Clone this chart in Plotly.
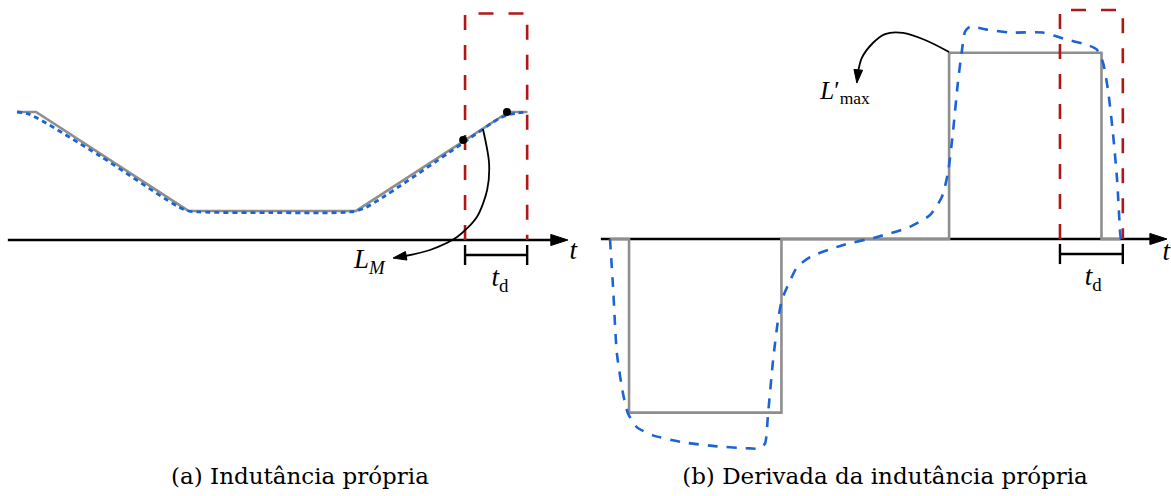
import plotly.graph_objects as go

# ---------------- data ----------------
# (a) self inductance: ideal piecewise-linear profile and measured profile
t_ideal = [0.0, 0.5, 4.5, 8.9, 12.9, 13.4]
L_ideal = [1.0, 1.0, 0.227, 0.227, 1.0, 1.0]

t_meas = [0.0, 0.34, 2.18, 4.41, 4.80, 6.64, 8.74, 9.13, 11.63, 12.68, 13.07, 13.39]
L_meas = [1.0, 0.98, 0.656, 0.234, 0.219, 0.214, 0.219, 0.25, 0.742, 0.953, 0.99, 1.0]

# sample points marked on the ideal profile
t_marks = [11.71, 12.86]
L_marks = [0.781, 1.0]

# (b) derivative of the self inductance: ideal steps and measured curve
t_step = [0.0, 0.5, 4.5, 8.9, 12.9, 13.4]
dL_step = [0.0, -0.932, 0.0, 1.0, 0.0, 0.0]

t_dmeas = [0.0, 0.08, 0.18, 0.34, 0.47, 0.71, 1.13, 1.92, 2.81, 3.67, 3.94, 4.07,
           4.15, 4.28, 4.41, 4.51, 4.65, 4.91, 5.25, 6.12, 7.01, 7.87, 8.40, 8.71,
           8.87, 9.00, 9.13, 9.24, 9.32, 9.45, 9.89, 10.50, 11.36, 11.99, 12.52,
           12.78, 12.94, 13.07, 13.20, 13.31, 13.39, 13.41]
dL_meas = [0.0, -0.258, -0.613, -0.828, -0.935, -1.011, -1.054, -1.091, -1.113,
           -1.124, -1.124, -1.097, -0.935, -0.651, -0.435, -0.328, -0.258, -0.151,
           -0.097, -0.032, 0.011, 0.065, 0.129, 0.226, 0.355, 0.570, 0.839, 1.016,
           1.113, 1.140, 1.124, 1.108, 1.108, 1.070, 1.043, 1.016, 0.946, 0.801,
           0.570, 0.317, 0.032, 0.0]

# dead-time window t_d (start, end) and window height for each panel
td_a = (11.76, 13.39)
td_a_top = 1.77
td_b = (11.81, 13.46)
td_b_top = 1.229

# curved pointer paths for the labels (last point is the arrow tip)
lm_arrow_t = [12.23, 12.39, 12.34, 12.07, 11.55, 10.84, 10.18, 9.87]
lm_arrow_L = [0.867, 0.602, 0.391, 0.180, 0.023, -0.078, -0.125, -0.141]
lmax_arrow_t = [8.90, 8.27, 7.69, 7.22, 6.90, 6.61, 6.51, 6.48]
lmax_arrow_d = [1.004, 1.068, 1.106, 1.100, 1.052, 0.972, 0.896, 0.837]

captions = ["(a) Indutância própria", "(b) Derivada da indutância própria"]

# ---------------- styling ----------------
W, H = 1171, 496
PX_T = 38.1                     # pixels per time unit
A_X0, B_X0 = 17.0, 610.0        # pixel column of t = 0 in each panel
A_Y0, A_SC = 240.0, 128.0       # pixel row of L = 0 and pixels per unit (a)
B_Y0, B_SC = 239.0, 186.3       # same for (b)
SPLIT = 585.5
CAPTION_ROW = 478.0             # pixel row of the caption baseline centre

GRAY = "#8e8e8e"
BLUE = "#1c63d4"
RED = "#b01818"
BLACK = "#000000"
SERIF = "Liberation Serif"
CAPTION_FONT = "DejaVu Serif"

fig = go.Figure()


def line(x, y, xa, ya, color, width, dash="solid", shape="linear", smooth=None):
    ln = dict(color=color, width=width, dash=dash, shape=shape)
    if smooth is not None:
        ln["smoothing"] = smooth
    fig.add_trace(go.Scatter(x=x, y=y, xaxis=xa, yaxis=ya, mode="lines",
                             line=ln, hoverinfo="skip", showlegend=False))


def arrowhead(x_from, y_from, x_tip, y_tip, xa, ya, size):
    # arrow marker with its tip on the last point, oriented along the segment
    fig.add_trace(go.Scatter(x=[x_from, x_tip], y=[y_from, y_tip], xaxis=xa, yaxis=ya,
                             mode="markers",
                             marker=dict(symbol="arrow", angleref="previous",
                                         size=[0, size], color=BLACK, opacity=1,
                                         line=dict(width=1, color=BLACK)),
                             hoverinfo="skip", showlegend=False))


def label(x, y, txt, xa, ya, size=22, family=SERIF):
    fig.add_trace(go.Scatter(x=[x], y=[y], xaxis=xa, yaxis=ya, mode="text",
                             text=[txt], textposition="middle center",
                             textfont=dict(family=family, size=size, color=BLACK),
                             hoverinfo="skip", showlegend=False))


# ---- panel (a) ----
t_axis_start, t_axis_tip = -0.24, 14.46
line([t_axis_start, t_axis_tip - 0.2], [0, 0], "x", "y", BLACK, 2.4)
arrowhead(t_axis_tip - 0.6, 0, t_axis_tip, 0, "x", "y", 18)

line([td_a[0], td_a[0], td_a[1], td_a[1]], [0, td_a_top, td_a_top, 0],
     "x", "y", RED, 2.6, dash="15px,15px")

line(t_ideal, L_ideal, "x", "y", GRAY, 2.6)
line(t_meas, L_meas, "x", "y", BLUE, 2.8, dash="5px,4px", shape="spline", smooth=0.7)

fig.add_trace(go.Scatter(x=t_marks, y=L_marks, xaxis="x", yaxis="y", mode="markers",
                         marker=dict(color=BLACK, size=8), hoverinfo="skip",
                         showlegend=False))

bar_a = -0.117
tick_a = 0.078
line([td_a[0], td_a[1]], [bar_a, bar_a], "x", "y", BLACK, 2.4)
line([td_a[0], td_a[0]], [bar_a - tick_a, bar_a + tick_a], "x", "y", BLACK, 2.4)
line([td_a[1], td_a[1]], [bar_a - tick_a, bar_a + tick_a], "x", "y", BLACK, 2.4)

line(lm_arrow_t[:-1], lm_arrow_L[:-1], "x", "y", BLACK, 1.8, shape="spline", smooth=0.8)
arrowhead(lm_arrow_t[-2], lm_arrow_L[-2], lm_arrow_t[-1], lm_arrow_L[-1], "x", "y", 14)

label(14.6, -0.094, "<i>t</i>", "x", "y", 27)
label(sum(td_a) / 2 + 0.1, -0.31, "<i>t</i><sub>d</sub>", "x", "y", 27)
label(9.25, -0.165, "<i>L</i><sub><i>M</i></sub>", "x", "y", 27)
label((300 - A_X0) / PX_T, (A_Y0 - CAPTION_ROW) / A_SC, captions[0], "x", "y",
      23, CAPTION_FONT)

# ---- panel (b) ----
line([t_axis_start, t_axis_tip - 0.05], [0, 0], "x2", "y2", BLACK, 2.4)
arrowhead(t_axis_tip - 0.4, 0, t_axis_tip + 0.16, 0, "x2", "y2", 18)

line(t_step, dL_step, "x2", "y2", GRAY, 2.6, shape="hv")
line([td_b[0], td_b[0], td_b[1], td_b[1]], [0, td_b_top, td_b_top, 0],
     "x2", "y2", RED, 2.6, dash="15px,15px")
line(t_dmeas, dL_meas, "x2", "y2", BLUE, 2.6, dash="10px,9px", shape="spline", smooth=0.6)

bar_b = -0.0805
tick_b = 0.054
line([td_b[0], td_b[1]], [bar_b, bar_b], "x2", "y2", BLACK, 2.4)
line([td_b[0], td_b[0]], [bar_b - tick_b, bar_b + tick_b], "x2", "y2", BLACK, 2.4)
line([td_b[1], td_b[1]], [bar_b - tick_b, bar_b + tick_b], "x2", "y2", BLACK, 2.4)

line(lmax_arrow_t[:-1], lmax_arrow_d[:-1], "x2", "y2", BLACK, 1.8, shape="spline", smooth=0.8)
arrowhead(lmax_arrow_t[-2], lmax_arrow_d[-2], lmax_arrow_t[-1], lmax_arrow_d[-1],
          "x2", "y2", 14)

label(14.6, -0.075, "<i>t</i>", "x2", "y2", 27)
label(sum(td_b) / 2 + 0.05, -0.21, "<i>t</i><sub>d</sub>", "x2", "y2", 27)
label(6.17, 0.784, "<i>L</i>′<sub>max</sub>", "x2", "y2", 25)
label((885 - B_X0) / PX_T, (B_Y0 - CAPTION_ROW) / B_SC, captions[1], "x2", "y2",
      23, CAPTION_FONT)

# ---- axes: panel coordinates mapped onto the page ----
hidden = dict(visible=False, showgrid=False, zeroline=False, fixedrange=True)
fig.update_layout(
    width=W, height=H,
    margin=dict(l=0, r=0, t=0, b=0),
    paper_bgcolor="white", plot_bgcolor="white",
    showlegend=False,
    xaxis=dict(domain=[0, SPLIT / W], range=[-A_X0 / PX_T, (SPLIT - A_X0) / PX_T], **hidden),
    yaxis=dict(domain=[0, 1], range=[-(H - A_Y0) / A_SC, A_Y0 / A_SC], **hidden),
    xaxis2=dict(domain=[SPLIT / W, 1], range=[(SPLIT - B_X0) / PX_T, (W - B_X0) / PX_T],
                anchor="y2", **hidden),
    yaxis2=dict(domain=[0, 1], range=[-(H - B_Y0) / B_SC, B_Y0 / B_SC],
                anchor="x2", **hidden),
)

fig.write_html("out.html")
